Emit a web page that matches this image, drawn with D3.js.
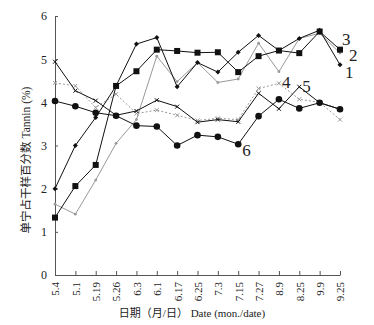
<!DOCTYPE html>
<html>
  <head>
    <meta charset="utf-8">
    <title>Tannin</title>
    <script src="https://cdn.jsdelivr.net/npm/d3@7"></script>
    <style>
      body { margin: 0; background: #fff; }
      svg { font-family: "Liberation Serif", "Noto Sans CJK SC", serif; }
      .axis path, .axis line { stroke: #555; }
      .axis text { fill: #222; font-size: 11px; }
    </style>
  </head>
  <body>
    <svg id="chart" width="374" height="325"></svg>
    <script>
      // data
      dates = ["5.4", "5.1", "5.19", "5.26", "6.3", "6.1", "6.17", "6.25", "7.3", "7.15", "7.27", "8.9", "8.25", "9.9", "9.25"];
      s1 = [2.0, 3.0, 3.65, 4.38, 5.35, 5.5, 4.36, 4.92, 4.70, 5.16, 5.55, 5.20, 5.48, 5.67, 4.87];
      s2 = [1.64, 1.41, 2.2, 3.05, 3.6, 5.07, 4.48, 4.92, 4.46, 4.54, 5.37, 4.71, 5.48, 5.60, 5.14];
      s3 = [1.33, 2.06, 2.55, 4.38, 4.72, 5.22, 5.19, 5.15, 5.16, 4.70, 5.07, 5.20, 5.14, 5.64, 5.22];
      s4 = [4.45, 4.38, 3.88, 4.19, 3.74, 3.82, 3.70, 3.58, 3.63, 3.60, 4.32, 4.44, 4.07, 4.00, 3.60];
      s5 = [4.94, 4.27, 4.04, 3.70, 3.80, 4.05, 3.90, 3.54, 3.60, 3.55, 4.21, 3.85, 4.36, 3.99, 3.84];
      s6 = [4.03, 3.91, 3.76, 3.69, 3.46, 3.44, 3.00, 3.24, 3.20, 3.03, 3.68, 4.07, 3.86, 3.99, 3.84];
      yTicks = [0, 1, 2, 3, 4, 5, 6];

      series = [
        { name: "4", values: s4, color: "#999", dash: "2,2", marker: "cross" },
        { name: "2", values: s2, color: "#999", dash: null, marker: "dot" },
        { name: "5", values: s5, color: "#111", dash: null, marker: "cross" },
        { name: "6", values: s6, color: "#111", dash: null, marker: "circle" },
        { name: "3", values: s3, color: "#111", dash: null, marker: "square" },
        { name: "1", values: s1, color: "#111", dash: null, marker: "small" }
      ];

      svg = d3.select("#chart");

      x = d3.scalePoint()
        .domain(dates)
        .range([55, 340])
        .padding(0);

      y = d3.scaleLinear()
        .domain([0, 6])
        .range([275, 16]);

      // axes
      yAxis = svg.append("g")
        .attr("class", "axis")
        .attr("transform", "translate(55,0)")
        .call(d3.axisLeft(y).tickValues(yTicks).tickFormat(d3.format("d")).tickSizeInner(-3).tickSizeOuter(0).tickPadding(8))
        .attr("font-family", null);
      yAxis.selectAll("text").style("font-size", "12px");

      xAxis = svg.append("g")
        .attr("class", "axis")
        .attr("transform", "translate(0,275)")
        .call(d3.axisBottom(x).tickSizeInner(-4).tickSizeOuter(0).tickPadding(6))
        .attr("font-family", null);
      xAxis.selectAll("text")
        .attr("transform", "rotate(-90)")
        .attr("text-anchor", "end")
        .attr("x", -7)
        .attr("y", 0)
        .attr("dy", "0.35em");

      line = d3.line()
        .x(function(d, i) { return x(dates[i]); })
        .y(function(d) { return y(d); });

      series.forEach(function(s) {
        svg.append("path")
          .datum(s.values)
          .attr("fill", "none")
          .attr("stroke", s.color)
          .attr("stroke-width", 1)
          .attr("stroke-dasharray", s.dash)
          .attr("d", line);

        marks = svg.append("g").selectAll("g")
          .data(s.values)
          .enter().append("g")
            .attr("transform", function(d, i) { return "translate(" + x(dates[i]) + "," + y(d) + ")"; });

        if (s.marker == "circle") {
          marks.append("circle").attr("r", 3.3).attr("fill", s.color);
        } else if (s.marker == "square") {
          marks.append("rect").attr("x", -3).attr("y", -3).attr("width", 6).attr("height", 6).attr("fill", s.color);
        } else if (s.marker == "small") {
          marks.append("path").attr("d", "M0,-2.5L2.5,0L0,2.5L-2.5,0Z").attr("fill", s.color);
        } else if (s.marker == "dot") {
          marks.append("circle").attr("r", 1.4).attr("fill", s.color);
        } else {
          marks.append("path")
            .attr("d", "M-2,-2L2,2M-2,2L2,-2")
            .attr("stroke", s.color)
            .attr("stroke-width", 1);
        }
      });

      // series labels
      labels = [
        { t: "3", i: 14, v: s3[14], dx: 2, dy: -5 },
        { t: "2", i: 14, v: s2[14], dx: 9, dy: 8 },
        { t: "1", i: 14, v: s1[14], dx: 5, dy: 13 },
        { t: "4", i: 11, v: s4[11], dx: 3, dy: 5 },
        { t: "5", i: 12, v: s5[12], dx: 3, dy: 5 },
        { t: "6", i: 9, v: s6[9], dx: 4, dy: 12 }
      ];
      svg.append("g").selectAll("text")
        .data(labels)
        .enter().append("text")
          .attr("x", function(d) { return x(dates[d.i]) + d.dx; })
          .attr("y", function(d) { return y(d.v) + d.dy; })
          .attr("font-size", "17px")
          .attr("fill", "#222")
          .text(function(d) { return d.t; });

      // titles
      svg.append("text")
        .attr("x", 192)
        .attr("y", 317)
        .attr("text-anchor", "middle")
        .attr("font-size", "11px")
        .attr("fill", "#222")
        .text("日期（月/日）  Date (mon./date)");

      svg.append("text")
        .attr("transform", "translate(30,160) rotate(-90)")
        .attr("text-anchor", "middle")
        .attr("font-size", "11.5px")
        .attr("fill", "#222")
        .text("单宁占干样百分数  Tannin (%)");
    </script>
  </body>
</html>
